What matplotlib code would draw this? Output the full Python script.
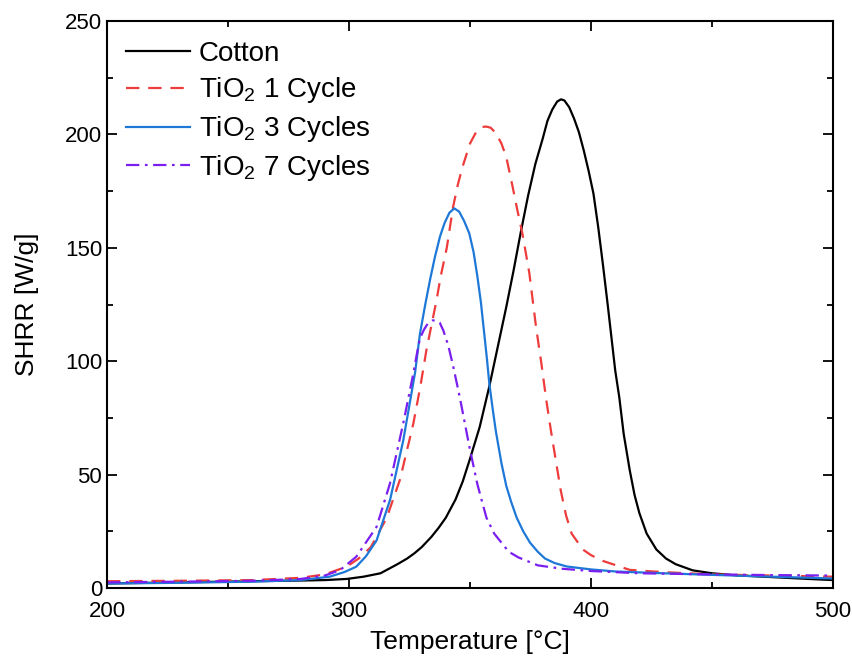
import numpy as np
import matplotlib
matplotlib.use("Agg")
import matplotlib.pyplot as plt

plt.rcParams['font.family'] = ['Liberation Sans', 'DejaVu Sans']
plt.rcParams['mathtext.default'] = 'regular'

# Cotton
t_cotton = [200, 230, 260, 280, 290, 299, 306, 313, 320, 324, 327, 330, 334, 337, 340,
            344, 347, 350, 354, 358, 362, 365, 368, 371, 374, 377, 380, 382, 384, 386,
            387.6, 389, 391, 393, 395, 397, 399, 401, 403, 405, 407, 408.5, 410, 411.7,
            413.5, 416, 418, 420, 423, 427, 431, 435, 442, 450, 460, 475, 490, 500]
y_cotton = [2, 2.5, 3, 3.3, 3.5, 4, 5, 6.5, 10.5, 13, 15.3, 18, 22.5, 26.5, 31,
            39, 47, 57, 71, 89, 109, 124, 140, 157, 173, 187, 198, 206, 211, 214.5,
            215.5, 215, 212, 207, 201, 193, 184, 174, 159, 142, 124, 110, 96, 84,
            68, 52, 41, 33, 24, 17, 13, 10.5, 7.8, 6.5, 5.6, 4.8, 4, 3.5]

# TiO2 1 cycle
t_c1 = [200, 230, 260, 280, 290, 299, 304, 309, 315.6, 321, 326.6, 329.5, 332, 336,
        338, 340.4, 343, 345, 347, 350, 352.5, 355, 356.6, 358.5, 360.7, 363, 365,
        367.6, 369.5, 371.7, 374.5, 377.3, 379.5, 381.5, 383.5, 385.5, 387.5, 389.7,
        392, 396.6, 400, 404.8, 416, 430, 450, 475, 500]
y_c1 = [3, 3.2, 3.5, 4.5, 6, 9.4, 13, 18, 31, 47.6, 72.6, 89, 105, 126,
        138, 150, 168, 178, 186, 196, 201, 203.3, 203.5, 203, 200.6, 196, 190,
        177, 167, 156, 139, 115, 99, 83, 69, 56, 43, 32,
        24, 17, 14.5, 12, 8, 7, 6, 5.5, 5]

# TiO2 3 cycles
t_c3 = [200, 230, 260, 280, 292, 298, 303, 307, 311.4, 317, 322.4, 327.3, 329.3, 331.5,
        333.5, 335.5, 337.6, 339.5, 341.5, 343.5, 345.5, 347.5, 349.7, 351.5, 353.1,
        354.5, 355.7, 357, 358, 359.5, 360.7, 363, 365, 367, 369.3, 372, 374.8, 378,
        381, 385, 390, 400, 410, 430, 450, 475, 500]
y_c3 = [2, 2.3, 2.8, 3.5, 5, 7, 9.4, 14, 21, 39, 65, 95, 112, 125,
        136, 146, 155, 161, 165.5, 167.4, 166, 162, 156.4, 148, 137,
        126, 114, 101, 90, 78, 69, 55, 45, 38, 31, 25, 20, 16,
        13, 11, 9.5, 8.2, 7.3, 6.5, 5.8, 5, 4.2]

# TiO2 7 cycles
t_c7 = [200, 230, 260, 280, 290, 296.3, 303, 311.4, 316.9, 322.4, 326.6, 328, 329.3,
        331, 332.5, 334.5, 336, 337.5, 339, 341, 343, 345.8, 347.8, 349.8, 353, 355,
        356.8, 360, 363, 366, 370, 378, 388, 400, 420, 450, 475, 500]
y_c7 = [2.5, 2.8, 3.2, 4, 5.5, 7.9, 13.8, 27, 46, 72.6, 94.7, 103, 110,
        114, 116.5, 118, 118, 117, 113.5, 107, 98, 84, 73, 62, 46, 38,
        31, 24, 20, 16, 13.5, 10, 8.5, 7.5, 6.5, 6, 5.7, 5.5]

fig, ax = plt.subplots(figsize=(8.52, 6.59), dpi=100)
fig.subplots_adjust(left=0.1256, right=0.9777, top=0.968, bottom=0.1077)

lw = 1.6
ax.plot(t_cotton, y_cotton, color='black', lw=lw, label='Cotton')
ax.plot(t_c1, y_c1, color='#EE3B3B', lw=lw, dashes=(6, 4), label='TiO$_2$ 1 Cycle')
ax.plot(t_c3, y_c3, color='#1E78D7', lw=lw, label='TiO$_2$ 3 Cycles')
ax.plot(t_c7, y_c7, color='#7B1FF0', lw=lw, dashes=(6, 2.5, 1.2, 2.5), label='TiO$_2$ 7 Cycles')

ax.set_xlim(200, 500)
ax.set_ylim(0, 250)
ax.set_xticks([200, 300, 400, 500])
ax.set_yticks([0, 50, 100, 150, 200, 250])
ax.set_xticks([250, 350, 450], minor=True)
ax.set_yticks([25, 75, 125, 175, 225], minor=True)
ax.tick_params(which='both', direction='in', top=True, right=True, labelsize=16, width=1.3)
ax.tick_params(which='major', length=7)
ax.tick_params(which='minor', length=4.5)
ax.tick_params(axis='x', pad=9)
for s in ax.spines.values():
    s.set_linewidth(1.5)

ax.set_xlabel('Temperature [°C]', fontsize=19, labelpad=6)
ax.set_ylabel('SHRR [W/g]', fontsize=19, labelpad=19)

ax.legend(loc='upper left', frameon=False, fontsize=20, handlelength=2.3,
          handletextpad=0.3, labelspacing=0.32, borderaxespad=0.3,
          bbox_to_anchor=(0.0, 1.0))

fig.savefig('out.png', dpi=100)
